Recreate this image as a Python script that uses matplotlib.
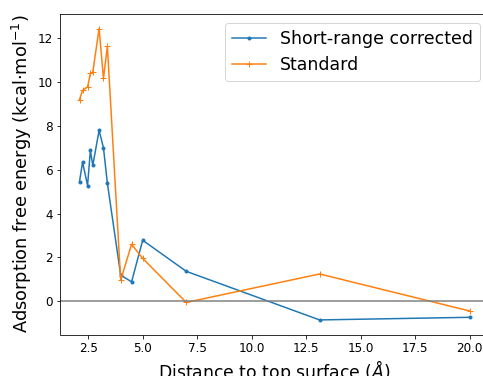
import matplotlib
matplotlib.use("Agg")
import matplotlib.pyplot as plt

# distances to top surface (Å)
dist = [2.1, 2.24, 2.47, 2.6, 2.71, 3.0, 3.2, 3.38, 3.99, 4.49, 5.0, 7.0, 13.12, 20.0]
# adsorption free energies (kcal/mol)
short_range = [5.45, 6.35, 5.28, 6.88, 6.2, 7.8, 7.0, 5.38, 1.19, 0.88, 2.78, 1.36, -0.86, -0.74]
standard = [9.2, 9.63, 9.78, 10.4, 10.46, 12.45, 10.17, 11.64, 0.95, 2.6, 1.95, -0.06, 1.24, -0.45]

fig = plt.figure(figsize=(483 / 72, 376 / 72), dpi=72)
ax = fig.add_axes([60 / 483, (376 - 334.5) / 376, 429 / 483, 320.5 / 376])

ax.plot(dist, short_range, marker='.', label='Short-range corrected')
ax.plot(dist, standard, marker='+', label='Standard')
ax.axhline(0, color='gray', lw=1.5)

ax.tick_params(labelsize=12)
ax.set_xlabel('Distance to top surface ($\\AA$)', fontsize=17.3)
ax.set_ylabel('Adsorption free energy (kcal·mol$^{-1}$)', fontsize=17.8)
ax.legend(loc='upper right', fontsize=17.4)

fig.savefig('out.png', dpi=72)
